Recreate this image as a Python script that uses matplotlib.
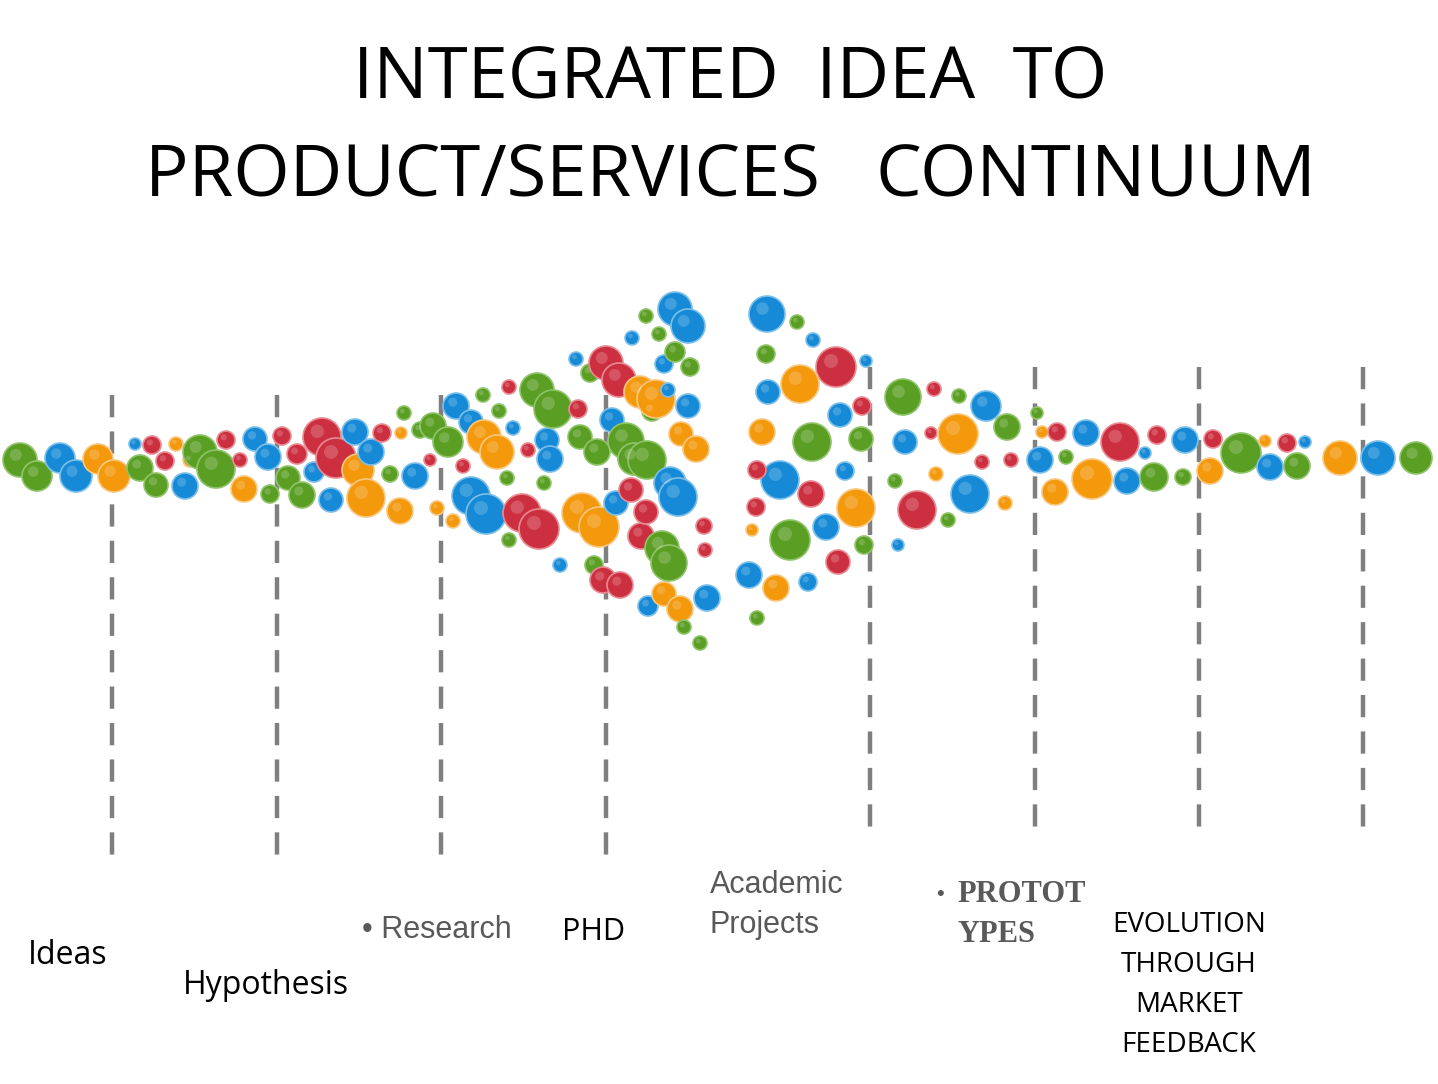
import matplotlib
matplotlib.use("Agg")
import matplotlib.pyplot as plt
from matplotlib.patches import Circle

COL = {"g": "#5a9e24", "b": "#168ad6", "r": "#cc3040", "o": "#f4980c"}
EDGE = {"g": "#8fc46a", "b": "#7cc0ea", "r": "#e88a92", "o": "#f8c880"}

bubble_x = [20,37,60,76,98,114,135,140,152,156,165,176,185,190,200,216,226,240,244,255,268,270,282,288,297,302,314,322,331,336,355,358,366,371,382,390,400,401,404,415,420,430,433,437,448,453,456,463,471,471,483,484,486,497,499,507,509,509,513,522,528,537,539,544,547,550,553,560,576,578,580,582,590,594,597,599,603,606,612,616,619,620,626,631,632,634,640,641,646,646,647,648,652,656,659,662,664,664,668,669,670,675,675,678,680,681,684,688,688,690,696,700,704,705,707,
767,797,813,766,836,800,768,866,840,862,762,812,861,780,845,757,811,756,856,790,826,752,838,864,749,776,808,757,
903,934,905,931,959,986,958,1007,936,982,1011,895,917,970,948,1005,898,1037,1042,1057,1040,1066,1086,1055,1092,1120,1127,1145,1154,1157,1185,1183,1210,1213,1241,1265,1270,1287,1297,1305,1340,1378,1416]
bubble_y = [460,476,458,476,459,476,444,468,445,485,461,444,486,460,452,469,440,460,489,439,457,494,436,478,454,495,472,437,500,458,432,470,498,452,433,474,511,433,413,476,430,460,426,508,442,521,406,466,422,496,395,437,514,452,411,478,387,540,428,513,450,390,529,483,440,459,409,565,359,409,437,513,373,565,452,527,580,363,420,503,380,585,441,490,338,459,392,536,512,316,460,606,411,399,334,548,364,594,390,563,483,309,352,497,609,434,627,326,406,367,449,643,526,550,598,
314,322,340,354,367,384,392,361,415,406,432,442,439,480,471,470,494,507,508,540,527,530,562,545,575,588,582,618,
397,389,442,433,396,406,434,427,474,462,460,481,510,494,520,503,545,413,432,432,460,457,433,492,479,442,481,453,477,435,440,477,471,439,453,441,467,443,466,442,458,458,458]
bubble_r = [17,15,15,16,15,16,6,13,9,12,9,7,13,7,17,19,9,7,13,12,13,9,9,12,10,13,10,19,12,20,13,16,19,13,9,8,13,6,7,13,8,6,13,7,15,7,13,7,12,19,7,17,20,17,7,7,7,7,7,19,7,17,20,7,12,13,19,7,7,9,12,20,9,9,13,20,13,17,12,12,17,13,18,12,7,16,16,13,12,7,19,10,10,19,7,17,9,12,7,18,16,17,10,19,13,12,7,17,12,9,13,7,8,7,13,
18,7,7,9,20,19,12,6,12,9,13,19,12,19,9,9,13,9,19,20,13,6,12,9,13,13,9,7,
18,7,12,6,7,15,20,13,7,7,7,7,19,19,7,7,6,6,6,9,13,7,13,13,20,19,13,6,14,9,13,8,13,9,20,6,13,9,13,6,17,17,16]
bubble_c = list(
    "ggbboobgrg" "roboggrrob" "bgrgrgbrbr" "boobrgoogb" "grgogobrbb"
    "goboggrgbr" "rgrgbbgbbr" "gogggorrbb" "rrgrbgorrg" "gbgoggbobg"
    "bbgboogbbg" "ogrrb"
    "bgbgrobbbr" "oggbbrrrog" "borgbobg"
    "grbrgbogor" "rgrbgobgor" "bgboorbbgr" "bgorgobrgb" "obg"
)

dash_x_left = [112, 277, 441, 606]
dash_x_right = [870, 1035, 1199, 1363]

title_lines = ["INTEGRATED  IDEA  TO", "PRODUCT/SERVICES   CONTINUUM"]

fig = plt.figure(figsize=(14.38, 10.84), dpi=100)
ax = fig.add_axes([0, 0, 1, 1])
ax.set_xlim(0, 1438)
ax.set_ylim(1084, 0)
ax.axis("off")

for x in dash_x_left:
    ax.plot([x, x], [395, 865], color="#7f7f7f", lw=3.2, dashes=(5, 3.2), zorder=1)
for x in dash_x_right:
    ax.plot([x, x], [367, 837], color="#7f7f7f", lw=3.2, dashes=(5, 3.2), zorder=1)

n = min(len(bubble_x), len(bubble_y), len(bubble_r), len(bubble_c))
for i in range(n):
    c = bubble_c[i]
    x, y, r = bubble_x[i], bubble_y[i], bubble_r[i]
    ax.add_patch(Circle((x, y), r, facecolor=COL[c], edgecolor=EDGE[c], lw=1.2, zorder=2))
    ax.add_patch(Circle((x - r * 0.25, y - r * 0.3), r * 0.35, facecolor="white", alpha=0.18, lw=0, zorder=3))

ax.text(730, 80, title_lines[0], ha="center", va="center", fontsize=52, family="Open Sans")
ax.text(730, 178, title_lines[1], ha="center", va="center", fontsize=52, family="Open Sans")

ax.text(28, 955, "Ideas", fontsize=23, family="Open Sans", va="center")
ax.text(183, 985, "Hypothesis", fontsize=23, family="Open Sans", va="center")
ax.text(362, 930, "• Research", fontsize=22, family="Liberation Sans", va="center", color="#595959")
ax.text(562, 932, "PHD", fontsize=22, family="Open Sans", va="center")
ax.text(710, 885, "Academic", fontsize=22, family="Liberation Sans", va="center", color="#595959")
ax.text(710, 925, "Projects", fontsize=22, family="Liberation Sans", va="center", color="#595959")
ax.text(937, 895, "• ", fontsize=16, family="Liberation Sans", va="center", color="#595959")
ax.text(957, 895, "PROTOT", fontsize=22, family="Liberation Serif", va="center", color="#595959", weight="bold")
ax.text(957, 935, "YPES", fontsize=22, family="Liberation Serif", va="center", color="#595959", weight="bold")
for i, t in enumerate(["EVOLUTION", "THROUGH", "MARKET", "FEEDBACK"]):
    ax.text(1189, 925 + 40 * i, t, fontsize=20, family="Open Sans", ha="center", va="center")

fig.savefig("out.png", dpi=100)
